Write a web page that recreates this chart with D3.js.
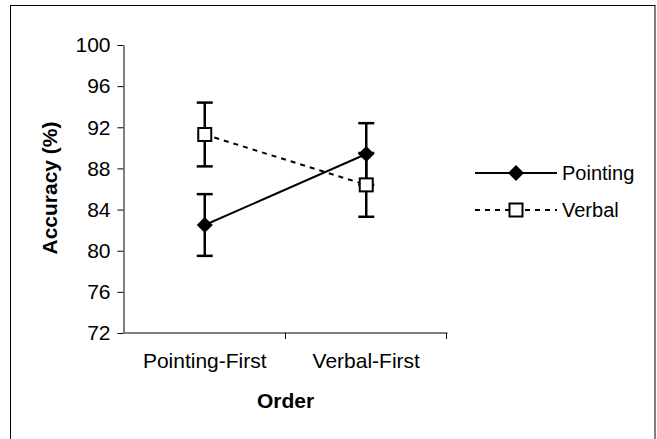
<!DOCTYPE html>
<html><head><meta charset="utf-8">
<script src="https://cdn.jsdelivr.net/npm/d3@7"></script>
<style>body{margin:0;background:#fff}svg{display:block}text{font-family:"Liberation Sans",Arial,sans-serif;fill:#000}</style>
</head><body>
<script>
const categories = ["Pointing-First", "Verbal-First"];
const seriesNames = ["Pointing", "Verbal"];
const pointingValues = [82.5, 89.4];
const pointingErrors = [3.0, 3.0];
const verbalValues = [91.3, 86.4];
const verbalErrors = [3.1, 3.1];
const yTicks = [72, 76, 80, 84, 88, 92, 96, 100];

const W = 657, H = 439;
const svg = d3.select("body").append("svg").attr("width", W).attr("height", H);
svg.append("rect").attr("x", 10.5).attr("y", 5.5).attr("width", 644.5).attr("height", 440)
  .attr("fill", "#fff").attr("stroke", "#000").attr("stroke-width", 1);

const x0 = 124, x1 = 447, yTop = 45, yBot = 333;
const x = d3.scaleBand().domain(categories).range([x0, x1]);
const y = d3.scaleLinear().domain([72, 100]).range([yBot, yTop]);
const cx = c => x(c) + x.bandwidth() / 2;

// y axis
const ya = svg.append("g").attr("transform", `translate(${x0 - 0.5},0)`)
  .call(d3.axisLeft(y).tickValues(yTicks).tickSize(6).tickSizeOuter(0).tickPadding(7));
ya.select(".domain").attr("stroke", "#000");
ya.selectAll(".tick line").attr("stroke", "#000");
ya.selectAll("text").attr("font-size", 21).attr("font-family", "Liberation Sans, Arial, sans-serif").attr("fill", "#000");

// x axis
const xa = svg.append("g").attr("transform", `translate(0,${yBot - 0.5})`)
  .call(d3.axisBottom(x).tickSize(0).tickSizeOuter(0).tickPadding(21));
xa.select(".domain").attr("stroke", "#000");
xa.selectAll("text").attr("font-size", 21).attr("font-family", "Liberation Sans, Arial, sans-serif").attr("fill", "#000");
// category boundary ticks
const bounds = [x0 + x.bandwidth(), x1 - 0.5];
svg.append("g").selectAll("line").data(bounds).join("line")
  .attr("x1", d => d).attr("x2", d => d).attr("y1", yBot).attr("y2", yBot + 6)
  .attr("stroke", "#000").attr("stroke-width", 1);

// titles
svg.append("text").attr("x", cx(categories[0]) + x.bandwidth() / 2).attr("y", 408)
  .attr("text-anchor", "middle").attr("font-size", 21).attr("font-weight", "bold").text("Order");
svg.append("text").attr("transform", "translate(57,188) rotate(-90)")
  .attr("text-anchor", "middle").attr("font-size", 21).attr("font-weight", "bold").text("Accuracy (%)");

const series = [
  {name: seriesNames[0], vals: pointingValues, errs: pointingErrors, dash: null, marker: "diamond"},
  {name: seriesNames[1], vals: verbalValues, errs: verbalErrors, dash: "5,5", marker: "square"}
];

const line = d3.line().x((d, i) => cx(categories[i])).y(d => y(d));
series.forEach(s => {
  const g = svg.append("g");
  g.append("path").attr("d", line(s.vals)).attr("fill", "none").attr("stroke", "#000")
    .attr("stroke-width", 2).attr("stroke-dasharray", s.dash);
  s.vals.forEach((v, i) => {
    const px = cx(categories[i]);
    const e = s.errs[i];
    g.append("line").attr("x1", px).attr("x2", px).attr("y1", y(v + e)).attr("y2", y(v - e))
      .attr("stroke", "#000").attr("stroke-width", 2.5);
    [v + e, v - e].forEach(t => g.append("line").attr("x1", px - 8).attr("x2", px + 8)
      .attr("y1", y(t)).attr("y2", y(t)).attr("stroke", "#000").attr("stroke-width", 2.5));
  });
});
function drawMarker(g, type, px, py) {
  if (type === "diamond") {
    g.append("path").attr("d", `M${px},${py - 8}L${px + 8},${py}L${px},${py + 8}L${px - 8},${py}Z`).attr("fill", "#000");
  } else {
    g.append("rect").attr("x", px - 6.5).attr("y", py - 6.5).attr("width", 13).attr("height", 13)
      .attr("fill", "#fff").attr("stroke", "#000").attr("stroke-width", 2);
  }
}
series.forEach(s => {
  const g = svg.append("g");
  s.vals.forEach((v, i) => drawMarker(g, s.marker, cx(categories[i]), y(v)));
});

// legend
const legY = [173, 210];
series.forEach((s, i) => {
  const g = svg.append("g");
  g.append("line").attr("x1", 475).attr("x2", 557).attr("y1", legY[i]).attr("y2", legY[i])
    .attr("stroke", "#000").attr("stroke-width", 2).attr("stroke-dasharray", s.dash);
  drawMarker(g, s.marker, 516, legY[i]);
  g.append("text").attr("x", 562).attr("y", legY[i] + 7).attr("font-size", 20).text(s.name);
});
</script>
</body></html>
